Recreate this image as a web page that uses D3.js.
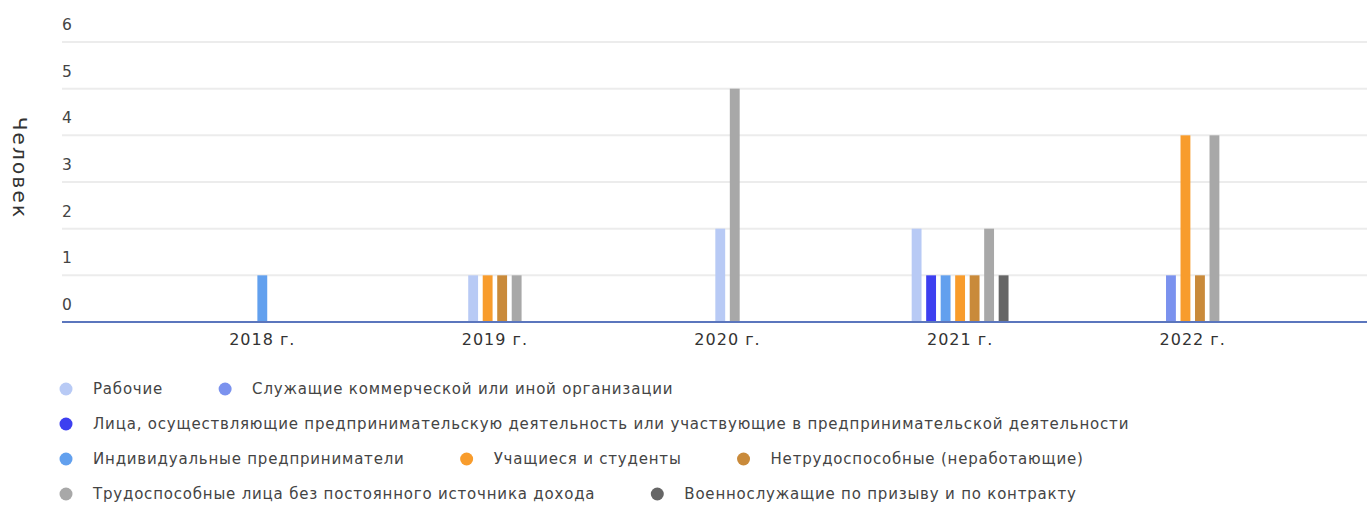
<!DOCTYPE html>
<html>
<head>
<meta charset="utf-8">
<script src="https://cdn.jsdelivr.net/npm/d3@7"></script>
<style>
  html, body { margin: 0; padding: 0; background: #ffffff; }
  svg { display: block; font-family: "DejaVu Sans", sans-serif; }
</style>
</head>
<body>
<svg id="chart" width="1367" height="506"></svg>
<script>
// ---- data ----
const categories = ["2018 г.", "2019 г.", "2020 г.", "2021 г.", "2022 г."];
const seriesNames = [
  "Рабочие",
  "Служащие коммерческой или иной организации",
  "Лица, осуществляющие предпринимательскую деятельность или участвующие в предпринимательской деятельности",
  "Индивидуальные предприниматели",
  "Учащиеся и студенты",
  "Нетрудоспособные (неработающие)",
  "Трудоспособные лица без постоянного источника дохода",
  "Военнослужащие по призыву и по контракту"
];
const seriesColors = ["#b8caf5", "#7b92ee", "#3d3ff0", "#62a0ee", "#f89c2c", "#c98a3a", "#a8a8a8", "#666666"];
const workers      = [0, 1, 2, 2, 0];
const employees    = [0, 0, 0, 0, 1];
const entrepreneursActivity = [0, 0, 0, 1, 0];
const soleProprietors = [1, 0, 0, 1, 0];
const students     = [0, 1, 0, 1, 4];
const disabled     = [0, 1, 0, 1, 1];
const ableNoIncome = [0, 1, 5, 2, 4];
const military     = [0, 0, 0, 1, 0];
const seriesValues = [workers, employees, entrepreneursActivity, soleProprietors, students, disabled, ableNoIncome, military];
const yTicks = [0, 1, 2, 3, 4, 5, 6];
const yTitle = "Человек";
const legendRows = [[0, 1], [2], [3, 4, 5], [6, 7]];

// ---- layout ----
const W = 1367, H = 506;
const plotLeft = 62, plotRight = W;
const svg = d3.select("#chart");

const x = d3.scaleBand().domain(categories).range([146, 1309]).paddingInner(0);
const y = d3.scaleLinear().domain([0, 6]).range([322, 42]);
const slot = 14.5;

// gridlines
svg.append("g").selectAll("line").data(yTicks.filter(t => t > 0)).join("line")
  .attr("x1", plotLeft).attr("x2", plotRight)
  .attr("y1", d => y(d)).attr("y2", d => y(d))
  .attr("stroke", "#ececec").attr("stroke-width", 2);

// y tick labels (placed above gridlines)
svg.append("g").selectAll("text").data(yTicks).join("text")
  .attr("x", plotLeft)
  .attr("y", d => y(d) - 12)
  .attr("font-size", 15.5)
  .attr("letter-spacing", 0.5)
  .attr("fill", "#444")
  .text(d => d);

// y title
svg.append("text")
  .attr("transform", "translate(13,168) rotate(90)")
  .attr("text-anchor", "middle")
  .attr("font-size", 20)
  .attr("letter-spacing", 2.2)
  .attr("fill", "#333")
  .text(yTitle);

// bars
const groups = svg.append("g").selectAll("g").data(categories).join("g");
groups.each(function(cat, ci) {
  const active = seriesNames.map((s, si) => si).filter(si => seriesValues[si][ci] > 0);
  const cx = x(cat) + x.bandwidth() / 2;
  const n = active.length;
  const inner = d3.scaleBand().domain(active)
    .range([cx - n * slot / 2, cx + n * slot / 2])
    .paddingInner(0.32).paddingOuter(0.16);
  d3.select(this).selectAll("rect").data(active).join("rect")
    .attr("x", si => inner(si))
    .attr("width", inner.bandwidth())
    .attr("y", si => y(seriesValues[si][ci]))
    .attr("height", si => y(0) - y(seriesValues[si][ci]))
    .attr("fill", si => seriesColors[si]);
});

// baseline
svg.append("line")
  .attr("x1", plotLeft).attr("x2", plotRight)
  .attr("y1", y(0)).attr("y2", y(0))
  .attr("stroke", "#5b76bd").attr("stroke-width", 2);

// x axis labels
const xAxis = svg.append("g").attr("transform", `translate(0,${y(0)})`)
  .call(d3.axisBottom(x).tickSize(0).tickPadding(12));
xAxis.select(".domain").remove();
xAxis.selectAll("text")
  .attr("font-family", "DejaVu Sans, sans-serif")
  .attr("font-size", 16)
  .attr("letter-spacing", 1)
  .attr("fill", "#333");

// legend
const legend = svg.append("g");
const rowY0 = 389, rowStep = 35;
legendRows.forEach((row, ri) => {
  let cx = 66;
  const yy = rowY0 + ri * rowStep;
  row.forEach(si => {
    legend.append("circle").attr("cx", cx).attr("cy", yy).attr("r", 6.5)
      .attr("fill", seriesColors[si]);
    const t = legend.append("text")
      .attr("x", cx + 27).attr("y", yy + 5)
      .attr("font-size", 15)
      .attr("letter-spacing", 0.8)
      .attr("fill", "#444")
      .text(seriesNames[si]);
    const w = t.node().getComputedTextLength();
    cx = cx + 27 + w + 62;
  });
});
</script>
</body>
</html>
